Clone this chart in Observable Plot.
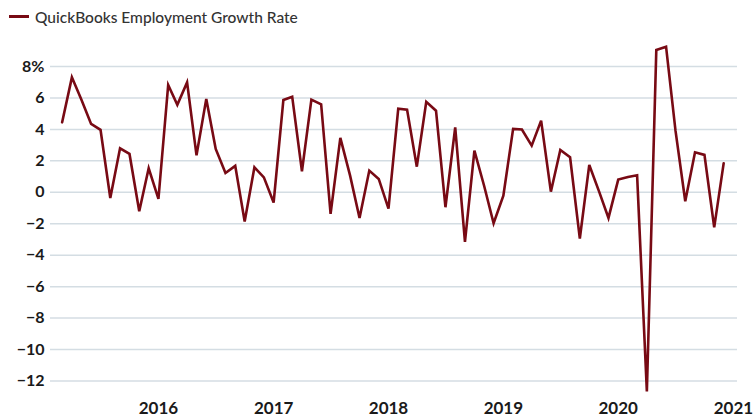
<!DOCTYPE html>
<html>
<head>
<meta charset="utf-8">
<script src="https://cdn.jsdelivr.net/npm/d3@7"></script>
<script src="https://cdn.jsdelivr.net/npm/@observablehq/plot@0.6"></script>
<style>
  html, body { margin: 0; padding: 0; background: #fff; }
  body { width: 754px; height: 420px; overflow: hidden; font-family: Lato, "Open Sans", sans-serif; }
  #legend { position: relative; height: 36px; }
  #legend .sw { position: absolute; left: 9px; top: 15px; width: 20px; height: 2.5px; background: #780a14; }
  #legend .lt { position: absolute; left: 35px; top: 8px; font-size: 15.5px; line-height: 18px; color: #333; font-weight: 500; }
  #chart svg { display: block; }
</style>
</head>
<body>
<div id="legend"><span class="sw"></span><span class="lt"></span></div>
<div id="chart"></div>
<script>
const seriesName = "QuickBooks Employment Growth Rate";
const firstMonth = [2015, 2];   // March 2015 (monthly series)
const growthRate = [
  4.45, 7.31, 5.9, 4.35, 3.97, -0.36, 2.8, 2.44, -1.21, 1.53,
  -0.42, 6.83, 5.57, 6.99, 2.35, 5.94, 2.76, 1.23, 1.68, -1.86,
  1.59, 0.95, -0.65, 5.87, 6.08, 1.34, 5.89, 5.6, -1.37, 3.46,
  1.06, -1.63, 1.38, 0.85, -1.04, 5.32, 5.26, 1.63, 5.75, 5.19,
  -0.95, 4.13, -3.15, 2.65, 0.4, -1.97, -0.21, 4.03, 3.99, 2.97,
  4.56, 0.04, 2.69, 2.23, -2.94, 1.74, 0.06, -1.63, 0.81, 0.97,
  1.08, -12.67, 9.05, 9.26, 3.92, -0.57, 2.54, 2.38, -2.23, 1.84
];
const yTicks = [-12, -10, -8, -6, -4, -2, 0, 2, 4, 6, 8];
const xTickYears = [2016, 2017, 2018, 2019, 2020, 2021];

document.querySelector("#legend .lt").textContent = seriesName;

const data = growthRate.map((v, i) => ({
  date: new Date(Date.UTC(firstMonth[0], firstMonth[1] + i, 1)),
  value: v
}));
const xTicks = xTickYears.map(y => new Date(Date.UTC(y, 0, 1)));
const fmtY = d => d === 8 ? "8%" : (d < 0 ? "\u2212" + Math.abs(d) : String(d));

const chart = Plot.plot({
  width: 754,
  height: 384,
  marginLeft: 50,
  marginRight: 17,
  marginTop: 30,
  marginBottom: 39.5,
  style: { fontFamily: "Lato, 'Open Sans', sans-serif", background: "#fff", color: "#1a1a1a" },
  x: { type: "utc", domain: [new Date(Date.UTC(2015, 0, 23)), new Date(Date.UTC(2021, 0, 14))] },
  y: { domain: [-12, 8] },
  marks: [
    Plot.gridY(yTicks, { stroke: "#d4dde3", strokeOpacity: 1, strokeWidth: 1.5 }),
    Plot.axisY(yTicks, { tickSize: 0, tickPadding: 6, tickFormat: fmtY, fontSize: 16, fontWeight: 700, fill: "#1a1a1a", label: null }),
    Plot.axisX(xTicks, { tickSize: 0, tickPadding: 21, tickFormat: d => String(d.getUTCFullYear()), fontSize: 17, fontWeight: 700, fill: "#1a1a1a", label: null }),
    Plot.lineY(data, { x: "date", y: "value", stroke: "#780a14", strokeWidth: 2.6, strokeLinejoin: "miter", strokeMiterlimit: 4 })
  ]
});
document.getElementById("chart").appendChild(chart);
</script>
</body>
</html>
